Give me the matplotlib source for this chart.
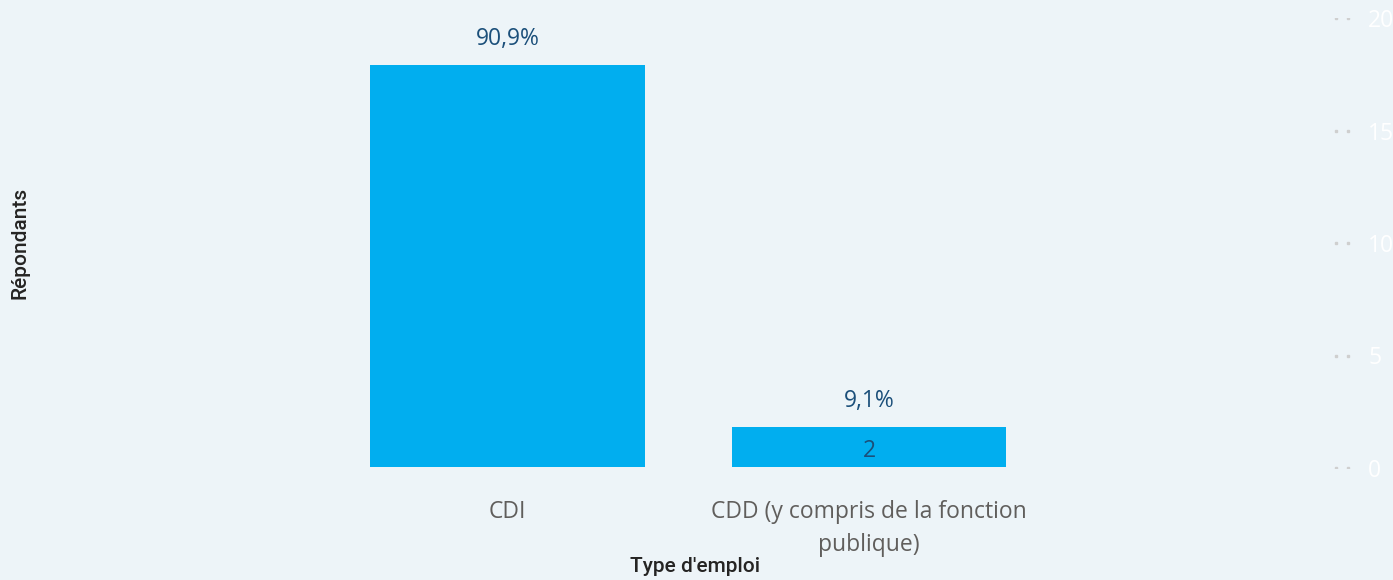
import matplotlib
matplotlib.use('Agg')
import matplotlib.pyplot as plt
import numpy as np

# data
categories = ['CDI', 'CDD (y compris de la fonction\npublique)']
respondents = [20, 2]
share_labels = ['90,9%', '9,1%']
inner_labels = ['', '2']
right_ticks = [0, 5, 10, 15, 20]

bg = '#EDF4F8'
bar_col = '#01AEEF'
val_col = '#1B4F7A'
cat_col = '#605E5C'

W, H = 1393, 580
fig = plt.figure(figsize=(W / 100, H / 100), dpi=100, facecolor=bg)

# main plot area (pixel box -> figure fractions)
left, right, top, bottom = 326.75, 1049.75, 17, 467
ax = fig.add_axes([left / W, (H - bottom) / H, (right - left) / W, (bottom - top) / H])
ax.set_facecolor(bg)
ind = np.arange(len(categories))
rects = ax.bar(ind, respondents, width=0.76, color=bar_col)
ax.set_xlim(-0.5, len(categories) - 0.5)
ax.set_ylim(0, 22.4)
for s in ax.spines.values():
    s.set_visible(False)
ax.set_yticks([])
ax.set_xticks(ind)
ax.set_xticklabels(categories, fontsize=16.5, color=cat_col, family='Open Sans', linespacing=1.5)
ax.tick_params(axis='x', length=0, pad=24)

for r, lab, inner in zip(rects, share_labels, inner_labels):
    h = r.get_height()
    cx = r.get_x() + r.get_width() / 2
    ax.annotate(lab, (cx, h), xytext=(0, 26), textcoords='offset pixels',
                ha='center', va='center', fontsize=16.5, color=val_col, family='Open Sans')
    if inner:
        ax.annotate(inner, (cx, h / 2), xytext=(0, -4), textcoords='offset pixels',
                    ha='center', va='center', fontsize=16.5, color=val_col, family='Open Sans')

# right value axis (faint)
axr = fig.add_axes([1334 / W, (H - 468) / H, 16 / W, 450 / H])
axr.set_facecolor('none')
axr.set_ylim(0, 20)
axr.set_xlim(0, 1)
axr.set_xticks([])
axr.set_yticks(right_ticks)
for s in axr.spines.values():
    s.set_visible(False)
axr.yaxis.tick_right()
axr.tick_params(axis='y', length=0, pad=13, labelsize=16.5, labelcolor='white')
for lab in axr.get_yticklabels():
    lab.set_family('Open Sans')
for t in right_ticks:
    axr.plot([0.15, 0.85], [t, t], ls='none', marker='s', ms=1.6, color='#CFCFCF')

fig.text(20 / W, 1 - 243 / H, 'Répondants', rotation=90, ha='center', va='center',
         fontsize=15, color='#252423', family='Roboto', fontweight='medium')
fig.text(695.5 / W, 1 - 567 / H, "Type d'emploi", ha='center', va='center',
         fontsize=15, color='#252423', family='Roboto', fontweight='medium')

fig.savefig('out.png', dpi=100, facecolor=bg)
